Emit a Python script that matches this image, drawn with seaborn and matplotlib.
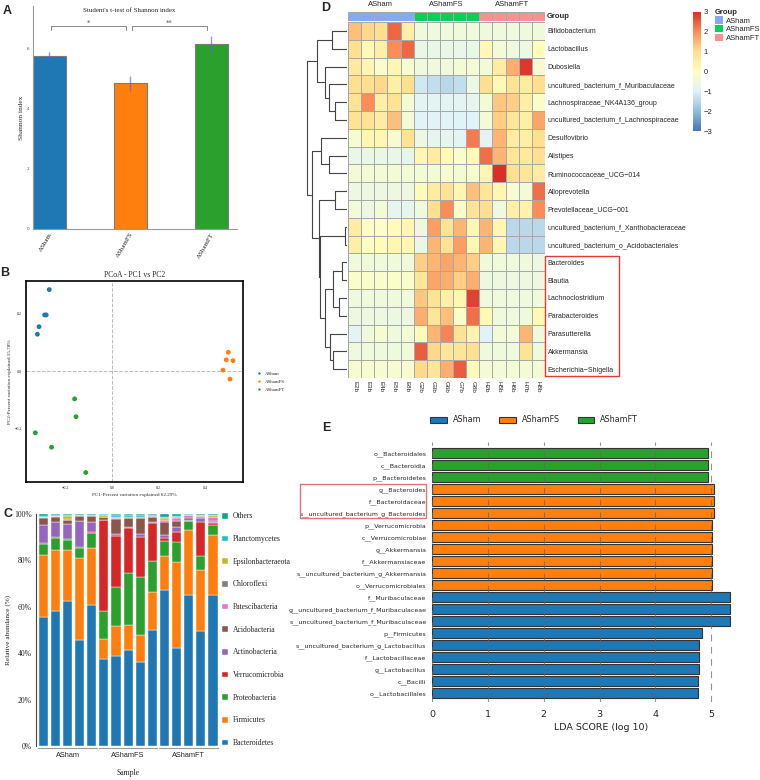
import numpy as np
import pandas as pd
import matplotlib
matplotlib.use("Agg")
import matplotlib.pyplot as plt
import matplotlib.transforms as mtrans
import seaborn as sns
from matplotlib.colors import LinearSegmentedColormap, ListedColormap
from matplotlib.patches import Patch, Rectangle

W, H = 760, 780


def rect(x0, y0, x1, y1):
    # pixel box (from top-left) -> figure fraction
    return [x0 / W, 1 - y1 / H, (x1 - x0) / W, (y1 - y0) / H]


groups = ["ASham", "AShamFS", "AShamFT"]
group_colors = ["#1f77b4", "#ff7f0e", "#2ca02c"]

# ---- A: Shannon index
shannon_mean = [5.73, 4.84, 6.15]
shannon_sd = [0.14, 0.25, 0.26]
signif = [(0, 1, "*"), (1, 2, "**")]

# ---- B: PCoA
pcoa_group = ["ASham"] * 5 + ["AShamFS"] * 5 + ["AShamFT"] * 5
pc1 = [-0.271, -0.291, -0.284, -0.315, -0.322,
       0.499, 0.490, 0.519, 0.476, 0.506,
       -0.162, -0.156, -0.331, -0.261, -0.114]
pc2 = [0.283, 0.195, 0.195, 0.154, 0.128,
       0.065, 0.039, 0.036, 0.003, -0.028,
       -0.097, -0.159, -0.215, -0.265, -0.353]

# ---- C: phylum composition (15 samples)
sample_group = ["ASham"] * 5 + ["AShamFS"] * 5 + ["AShamFT"] * 5
phyla = ["Bacteroidetes", "Firmicutes", "Proteobacteria", "Verrucomicrobia",
         "Actinobacteria", "Acidobacteria", "Patescibacteria", "Chloroflexi",
         "Epsilonbacteraeota", "Planctomycetes", "Others"]
phylum_colors = ["#1f77b4", "#ff7f0e", "#2ca02c", "#d62728", "#9467bd", "#8c564b",
                 "#e377c2", "#7f7f7f", "#bcbd22", "#17becf", "#15a08a"]
bacteroidetes = [55.8, 58.4, 62.7, 45.8, 60.9, 37.3, 38.9, 41.2, 36.0, 49.8, 67.4, 42.2, 65.1, 49.6, 64.9]
firmicutes = [26.4, 26.2, 21.8, 35.2, 24.6, 8.9, 12.8, 10.8, 11.8, 16.5, 14.4, 36.9, 27.8, 26.3, 26.0]
proteobacteria = [4.8, 5.0, 4.4, 4.3, 6.2, 12.1, 16.7, 22.4, 25.2, 13.5, 6.7, 8.7, 3.9, 6.0, 4.2]
verrucomicrobia = [0.6, 0.3, 0.3, 0.5, 0.5, 39.0, 22.2, 19.6, 17.3, 16.4, 1.0, 4.5, 0.3, 14.6, 1.0]
actinobacteria = [7.6, 6.6, 6.5, 11.0, 4.3, 0.3, 0.8, 0.4, 1.0, 0.3, 1.3, 1.9, 0.5, 1.9, 0.4]
acidobacteria = [3.2, 2.4, 1.6, 2.4, 2.7, 1.0, 6.6, 3.9, 6.8, 2.3, 5.8, 2.6, 0.5, 0.3, 0.4]
patescibacteria = [0.1, 0.1, 0.1, 0.1, 0.1, 0.1, 0.1, 0.1, 0.1, 0.1, 0.7, 1.5, 1.4, 0.6, 1.6]
chloroflexi = [0.3, 0.2, 0.3, 0.2, 0.2, 0.2, 0.3, 0.2, 0.3, 0.2, 0.2, 0.2, 0.1, 0.1, 0.1]
epsilonbacteraeota = [0.1, 0.1, 1.6, 0.1, 0.1, 0.8, 0.1, 0.1, 0.1, 0.1, 0.7, 0.2, 0.1, 0.1, 0.8]
planctomycetes = [0.2, 0.2, 0.1, 0.1, 0.1, 0.1, 0.9, 0.8, 0.8, 0.3, 0.3, 0.3, 0.1, 0.1, 0.2]
others = [0.9, 0.5, 0.6, 0.3, 0.3, 0.2, 0.6, 0.5, 0.6, 0.5, 1.5, 1.0, 0.2, 0.4, 0.4]
phylum_values = [bacteroidetes, firmicutes, proteobacteria, verrucomicrobia, actinobacteria,
                 acidobacteria, patescibacteria, chloroflexi, epsilonbacteraeota,
                 planctomycetes, others]

# ---- D: genus heatmap (row z-scores)
samples = ["E2b", "E3b", "E4b", "E5b", "E8b", "G2b", "G3b", "G6b", "G7b", "G8b",
           "H2b", "H5b", "H6b", "H7b", "H8b"]
annot_colors = ["#84a9f0", "#08cf5a", "#f89191"]
genera = ["Bifidobacterium", "Lactobacillus", "Dubosiella",
          "uncultured_bacterium_f_Muribaculaceae", "Lachnospiraceae_NK4A136_group",
          "uncultured_bacterium_f_Lachnospiraceae", "Desulfovibrio", "Alistipes",
          "Ruminococcaceae_UCG\u2212014", "Alloprevotella", "Prevotellaceae_UCG\u2212001",
          "uncultured_bacterium_f_Xanthobacteraceae", "uncultured_bacterium_o_Acidobacteriales",
          "Bacteroides", "Blautia", "Lachnoclostridium", "Parabacteroides",
          "Parasutterella", "Akkermansia", "Escherichia\u2212Shigella"]
zscore = [
    [1.4, 1.1, 1.0, 2.4, 0.5, -0.5, -0.5, -0.5, -0.5, -0.5, -0.5, -0.5, -0.5, -0.5, -0.5],
    [1.0, 0.2, 0.5, 2.0, 2.4, -0.7, -0.7, -0.7, -0.7, -0.7, 0.2, -0.4, -0.5, -0.6, 0.1],
    [0.7, 0.3, -0.2, 0.3, -0.3, -0.5, -0.5, -0.5, -0.4, -0.4, -0.4, 0.6, 1.6, 2.9, -0.3],
    [1.0, 1.0, 1.1, 0.5, 1.0, -1.2, -1.4, -1.5, -1.4, -0.6, 1.0, 0.2, 0.9, 0.6, 1.0],
    [0.9, 2.0, 0.5, 0.9, -0.4, -0.9, -0.9, -0.9, -0.9, -0.8, -0.4, 1.3, 1.2, 0.5, -0.2],
    [0.9, 0.9, 0.6, 1.4, -0.4, -1.0, -1.0, -1.0, -1.0, -1.0, -0.4, 1.2, 0.8, 0.5, 1.7],
    [-0.3, 0.3, 0.3, -0.3, 0.9, -0.6, -0.8, -0.8, -0.9, 2.2, -0.9, 1.5, 0.6, 0.5, 1.0],
    [-0.7, -0.7, -0.7, -0.7, -0.8, 0.3, 0.6, 0.2, -0.2, 0.2, 2.3, 1.5, 0.8, 0.7, 1.0],
    [-0.4, -0.4, -0.4, -0.4, -0.4, -0.4, -0.4, -0.3, -0.4, -0.3, 0.3, 3.0, 1.0, 0.8, 0.6],
    [-0.6, -0.6, -0.6, -0.6, -0.6, 0.1, 0.6, 0.9, 0.3, 1.4, 0.8, 0.3, -0.3, -0.4, 2.3],
    [-0.4, -0.6, -0.4, -0.8, -0.8, -0.5, 1.0, 2.0, -0.2, 0.9, 1.0, -0.5, 0.5, 0.4, 2.0],
    [0.6, -0.1, -0.1, 0.1, 0.3, -0.6, 1.8, 0.9, 1.5, 0.3, 1.5, 0.3, -1.5, -1.5, -1.5],
    [0.5, -0.1, 0.1, 0.3, 0.3, -0.7, 1.5, 0.9, 1.8, 0.3, 1.5, 0.3, -1.5, -1.5, -1.5],
    [-0.5, -0.5, -0.5, -0.5, -0.5, 1.2, 1.5, 1.7, 1.5, 1.2, -0.5, -0.5, -0.5, -0.5, -0.6],
    [-0.2, -0.2, -0.2, -0.2, -0.2, 0.8, 1.7, 1.6, 1.2, 1.6, -0.6, -0.6, -0.6, -0.6, -0.6],
    [-0.5, -0.5, -0.5, -0.5, -0.5, 1.3, 0.9, 0.5, 0.3, 2.8, -0.5, -0.5, -0.5, -0.5, -0.5],
    [-0.6, -0.6, -0.6, -0.6, -0.6, 1.6, 0.8, 1.4, -0.2, 2.3, 0.2, -0.5, -0.5, -0.5, 0.2],
    [-0.9, -0.5, -0.3, -0.5, -0.4, 0.1, 1.5, 2.1, 0.9, 0.4, -1.0, -0.4, -0.4, 1.5, -0.5],
    [-0.5, -0.5, -0.5, -0.5, -0.5, 2.5, 1.1, 0.8, 0.8, 1.0, -0.5, -0.5, -0.5, 0.9, -0.5],
    [-0.3, -0.3, -0.3, -0.3, -0.3, 1.1, 0.8, 1.6, 2.5, 0.1, -0.4, -0.4, -0.4, -0.4, -0.4],
]
# row clustering: (left id, right id, height); leaves 0-19, new nodes 20, 21, ...
row_merges = [
    (0, 1, 3.7), (4, 5, 3.0), (3, 21, 4.4), (2, 22, 5.5), (20, 23, 7.6),
    (7, 8, 4.4), (6, 25, 6.6), (9, 10, 3.0), (11, 12, 0.5), (13, 14, 1.3),
    (15, 16, 1.9), (29, 30, 3.4), (18, 19, 3.6), (17, 32, 4.25), (31, 33, 5.5),
    (28, 34, 6.75), (27, 35, 7.0), (26, 36, 8.8), (24, 37, 10.1),
]
boxed_rows = (13, 19)

# ---- E: LEfSe
features = ["o__Bacteroidales", "c__Bacteroidia", "p__Bacteroidetes", "g__Bacteroides",
            "f__Bacteroidaceae", "s__uncultured_bacterium_g_Bacteroides", "p__Verrucomicrobia",
            "c__Verrucomicrobiae", "g__Akkermansia", "f__Akkermansiaceae",
            "s__uncultured_bacterium_g_Akkermansia", "o__Verrucomicrobiales", "f__Muribaculaceae",
            "g__uncultured_bacterium_f_Muribaculaceae", "s__uncultured_bacterium_f_Muribaculaceae",
            "p__Firmicutes", "s__uncultured_bacterium_g_Lactobacillus", "f__Lactobacillaceae",
            "g__Lactobacillus", "c__Bacilli", "o__Lactobacillales"]
lda_scores = [4.95, 4.95, 4.95, 5.05, 5.05, 5.05, 5.01, 5.01, 5.01, 5.01, 5.01, 5.01,
              5.34, 5.34, 5.34, 4.84, 4.78, 4.78, 4.78, 4.77, 4.77]
lda_groups = ["AShamFT"] * 3 + ["AShamFS"] * 9 + ["ASham"] * 9
boxed_features = (3, 5)

serif = "Liberation Serif"
sans = "Liberation Sans"
sns.set_style("white")
plt.rcParams["font.family"] = ["DejaVu Sans"]

fig = plt.figure(figsize=(7.6, 7.8), dpi=100)

# ================= A
axA = fig.add_axes(rect(33, 6, 237, 229))
dfA = pd.DataFrame({"group": groups, "shannon": shannon_mean})
sns.barplot(data=dfA, x="group", y="shannon", hue="group", palette=group_colors,
            saturation=1, width=0.41, edgecolor="#7a7a7a", linewidth=0.8, legend=False, ax=axA)
axA.errorbar(range(len(groups)), shannon_mean, yerr=shannon_sd, fmt="none",
             ecolor="#5b5bff", elinewidth=1.0, alpha=0.65, zorder=4)
axA.set_xlim(-0.2, 2.32)
axA.set_ylim(0, 7.4)
axA.set_yticks([0, 2, 4, 6])
axA.tick_params(axis="y", labelsize=3, length=1.5, pad=1, colors="#555555")
axA.set_xticks(range(len(groups)))
axA.set_xticklabels(groups, rotation=60, ha="right", rotation_mode="anchor",
                    fontsize=5, family=serif)
axA.tick_params(axis="x", length=0, pad=2)
for s in ["top", "right"]:
    axA.spines[s].set_visible(False)
for s in ["left", "bottom"]:
    axA.spines[s].set_color("#999999")
    axA.spines[s].set_linewidth(0.8)
axA.set_xlabel("")
axA.set_ylabel("Shannon index", family=serif, fontsize=5.3, labelpad=2)
bracket_y, drop = 6.72, 0.12
for i, j, star in signif:
    x0, x1 = i + 0.02, j - 0.05
    axA.plot([x0, x0, x1, x1], [bracket_y - drop, bracket_y, bracket_y, bracket_y - drop],
             color="#888888", lw=0.7)
    axA.text((x0 + x1) / 2, bracket_y + 0.04, star, ha="center", va="bottom",
             fontsize=5, color="#555555")
fig.text(129 / W, 1 - 10 / H, "Student's t-test of Shannon index", family=serif,
         fontsize=5, ha="center", va="center")

# ================= B
axB = fig.add_axes(rect(26, 281, 243, 482))
dfB = pd.DataFrame({"PC1": pc1, "PC2": pc2, "group": pcoa_group})
sns.scatterplot(data=dfB, x="PC1", y="PC2", hue="group", hue_order=groups,
                palette=group_colors, s=12, linewidth=0, ax=axB)
axB.axvline(0, color="#bbbbbb", ls="--", lw=0.7, zorder=0)
axB.axhline(0, color="#bbbbbb", ls="--", lw=0.7, zorder=0)
axB.set_xlim(-0.371, 0.562)
axB.set_ylim(-0.386, 0.313)
axB.set_xticks([-0.2, 0.0, 0.2, 0.4])
axB.set_yticks([-0.2, 0.0, 0.2])
axB.tick_params(labelsize=3, length=1.5, pad=1.5)
for lab in axB.get_xticklabels() + axB.get_yticklabels():
    lab.set_family(serif)
for s in axB.spines.values():
    s.set_color("black")
    s.set_linewidth(1.2)
axB.set_title("PCoA - PC1 vs PC2", family=serif, fontsize=5.5, pad=3)
axB.set_xlabel("PC1-Percent variation explained 62.29%", family=serif, fontsize=3.7, labelpad=2)
axB.set_ylabel("PC2-Percent variation explained 15.78%", family=serif, fontsize=3.7, labelpad=2)
axB.legend(loc="center left", bbox_to_anchor=(1.03, 0.5), frameon=False,
           prop={"family": serif, "size": 3.5}, markerscale=0.5, handletextpad=0.2,
           labelspacing=0.7)

# ================= C
axC = fig.add_axes(rect(36, 514, 219, 746))
xpos = np.arange(len(sample_group))
bottom = np.zeros(len(sample_group))
for name, vals, col in zip(phyla, phylum_values, phylum_colors):
    axC.bar(xpos, vals, bottom=bottom, width=0.76, color=col, edgecolor="white",
            linewidth=0.3, label=name)
    bottom += np.array(vals)
axC.set_xlim(-0.6, 14.5)
axC.set_ylim(0, 100)
axC.set_yticks(range(0, 101, 20))
axC.set_yticklabels([f"{v}%" for v in range(0, 101, 20)], family=serif, fontsize=5.5)
axC.set_xticks([])
axC.tick_params(axis="y", length=2, pad=1, color="#444444")
for s in ["top", "right", "bottom"]:
    axC.spines[s].set_visible(False)
axC.spines["left"].set_color("#444444")
axC.spines["left"].set_linewidth(0.8)
for g in groups:
    idx = [i for i, s in enumerate(sample_group) if s == g]
    axC.plot([min(idx) - 0.42, max(idx) + 0.42], [-1.0, -1.0], color="#999999", lw=0.8,
             clip_on=False)
    axC.text(np.mean(idx), -4.0, g, ha="center", va="center", family=sans, fontsize=5.3)
axC.text(np.mean(xpos), -11.6, "Sample", ha="center", va="center", family=serif, fontsize=5.6)
axC.set_ylabel("Relative abundance (%)", family=serif, fontsize=5.2, labelpad=2)
hC, lC = axC.get_legend_handles_labels()
axC.legend(hC[::-1], lC[::-1], loc="upper left", bbox_to_anchor=(1.0, 1.02), frameon=False,
           prop={"family": serif, "size": 5.5}, handlelength=0.8, handleheight=0.8,
           handletextpad=0.6, labelspacing=1.92, borderaxespad=0)

# ================= D
cmap = LinearSegmentedColormap.from_list(
    "pheat", ["#4575B4", "#91BFDB", "#E0F3F8", "#FFFFBF", "#FEE090", "#FC8D59", "#D73027"])
axH = fig.add_axes(rect(348, 22, 545, 378))
axCB = fig.add_axes(rect(693, 12, 701, 131))
dfH = pd.DataFrame(zscore, index=genera, columns=samples)
sns.heatmap(dfH, cmap=cmap, vmin=-3, vmax=3, linewidths=0.6, linecolor="#a8a8a8",
            cbar_ax=axCB, ax=axH, xticklabels=True, yticklabels=True)
axH.yaxis.tick_right()
axH.set_yticks(np.arange(len(genera)) + 0.5)
axH.set_yticklabels(genera, rotation=0, family=sans, fontsize=5)
axH.tick_params(axis="y", length=0, pad=2)
axH.set_xticks(np.arange(len(samples)) + 0.5)
axH.set_xticklabels(samples, rotation=270, family=sans, fontsize=4.5)
axH.tick_params(axis="x", length=0, pad=2)
axH.set_xlabel("")
axH.set_ylabel("")
cb = axH.collections[0].colorbar
cb.outline.set_visible(False)
cb.set_ticks(range(-3, 4))
axCB.tick_params(length=0, labelsize=5.5, pad=2)
for lab in axCB.get_yticklabels():
    lab.set_family(sans)
axH.add_patch(Rectangle((len(samples), boxed_rows[0] + 0.15), 5.6,
                        boxed_rows[1] - boxed_rows[0] + 0.75, fill=False,
                        edgecolor="#e53935", lw=1.0, clip_on=False))

axG = fig.add_axes(rect(348, 12, 545, 20.5))
grp_idx = np.array([[groups.index(g) for g in sample_group]])
sns.heatmap(grp_idx, cmap=ListedColormap(annot_colors), vmin=-0.5, vmax=2.5, cbar=False,
            linewidths=0.6, linecolor="#a8a8a8", xticklabels=False, yticklabels=False, ax=axG)
for g in groups:
    idx = [i for i, s in enumerate(sample_group) if s == g]
    axG.text(np.mean(idx) + 0.5, -0.85, g, ha="center", va="center", family=sans, fontsize=5.5)
axG.text(len(samples) + 0.15, 0.5, "Group", ha="left", va="center", family=sans,
         fontsize=5.5, fontweight="bold")

leg_handles = [Patch(facecolor=c, edgecolor="none") for c in annot_colors]
legD = fig.legend(leg_handles, groups, title="Group", loc="upper left",
                  bbox_to_anchor=(715 / W, 1 - 9 / H), frameon=False,
                  prop={"family": sans, "size": 5.5}, handlelength=1.0, handleheight=1.1,
                  handletextpad=0.4, labelspacing=0.05, borderaxespad=0, borderpad=0)
legD.get_title().set_fontweight("bold")
legD.get_title().set_family(sans)
legD.get_title().set_fontsize(5.5)
legD._legend_box.align = "left"

# dendrogram from merge list
axT = fig.add_axes(rect(303, 22, 347, 378))
node = {i: (i + 0.5, 0.0) for i in range(len(genera))}
nid = len(genera)
for a, b, h in row_merges:
    ya, ha_ = node[a]
    yb, hb = node[b]
    axT.plot([ha_, h, h, hb], [ya, ya, yb, yb], color="#444444", lw=0.8)
    node[nid] = ((ya + yb) / 2, h)
    nid += 1
axT.set_xlim(11, 0)
axT.set_ylim(len(genera), 0)
axT.axis("off")

# ================= E
axE = fig.add_axes(rect(432, 442, 742, 702))
dfE = pd.DataFrame({"feature": features, "lda": lda_scores, "group": lda_groups})
sns.barplot(data=dfE, y="feature", x="lda", hue="group", hue_order=groups,
            palette=group_colors, saturation=1, dodge=False, width=0.84, edgecolor="#333333",
            linewidth=0.8, legend=False, ax=axE)
axE.set_ylim(20.75, -0.92)
axE.set_xlim(0, 5.55)
axE.set_xticks(range(6))
for v in range(6):
    axE.axvline(v, color="#666666", ls=(0, (6, 5)), lw=0.8, alpha=0.7, zorder=3)
for s in axE.spines.values():
    s.set_visible(False)
axE.tick_params(axis="y", length=0, pad=4, labelsize=4.5)
axE.tick_params(axis="x", length=0, pad=6, labelsize=6.8)
axE.set_ylabel("")
axE.set_xlabel("LDA SCORE (log 10)", fontsize=6.8)
axE.xaxis.set_label_coords(0.545, -0.082)
handlesE = [Patch(facecolor=c, edgecolor="#333333", lw=0.8) for c in group_colors]
axE.legend(handlesE, groups, loc="center", bbox_to_anchor=(0.33, 1.085), ncol=3,
           frameon=False, fontsize=5.8, handlelength=2.0, handleheight=0.8,
           columnspacing=2.2, handletextpad=0.8)
blend = mtrans.blended_transform_factory(axE.transAxes, axE.transData)
axE.add_patch(Rectangle((-0.425, boxed_features[0] - 0.45), 0.405,
                        boxed_features[1] - boxed_features[0] + 0.9, transform=blend,
                        fill=False, edgecolor="#e57373", lw=1.0, clip_on=False))

# panel letters
for letter, (px, py) in {"A": (7, 11), "B": (5, 273), "C": (8, 514),
                         "D": (326, 8), "E": (326, 428)}.items():
    fig.text(px / W, 1 - py / H, letter, family=sans, fontsize=9, fontweight="bold",
             ha="center", va="center")

fig.savefig("out.png", dpi=100)
